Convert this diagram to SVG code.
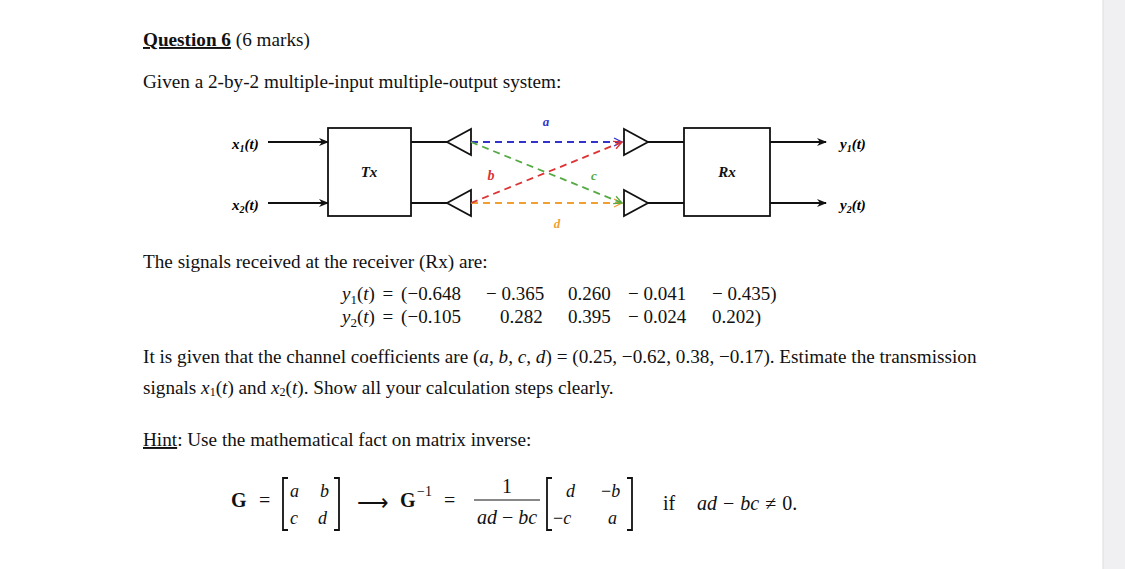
<svg xmlns="http://www.w3.org/2000/svg" width="1125" height="569" viewBox="0 0 1125 569">
<style>
.t{font-family:"Liberation Serif",serif;font-size:19.2px;fill:#111}
.m{font-family:"Liberation Serif",serif;fill:#111}
.s{fill:none;stroke:#111;stroke-width:1.8}
.dash{fill:none;stroke-width:1.8;stroke-dasharray:7,5}
</style>
<defs>
<marker id="ar" markerWidth="10" markerHeight="8" refX="9" refY="4" orient="auto" markerUnits="userSpaceOnUse"><path d="M0,0 L10,4 L0,8 L3,4 Z" fill="#111"/></marker>
<marker id="ob" markerWidth="10" markerHeight="10" refX="9" refY="5" orient="auto" markerUnits="userSpaceOnUse"><path d="M1,1 L9,5 L1,9" fill="none" stroke="#33c" stroke-width="1.3"/></marker>
<marker id="or" markerWidth="10" markerHeight="10" refX="9" refY="5" orient="auto" markerUnits="userSpaceOnUse"><path d="M1,1 L9,5 L1,9" fill="none" stroke="#d33" stroke-width="1.3"/></marker>
<marker id="og" markerWidth="10" markerHeight="10" refX="9" refY="5" orient="auto" markerUnits="userSpaceOnUse"><path d="M1,1 L9,5 L1,9" fill="none" stroke="#5a4" stroke-width="1.3"/></marker>
<marker id="oo" markerWidth="10" markerHeight="10" refX="9" refY="5" orient="auto" markerUnits="userSpaceOnUse"><path d="M1,1 L9,5 L1,9" fill="none" stroke="#f0a030" stroke-width="1.3"/></marker>
</defs>
<rect width="1125" height="569" fill="#fff"/>
<rect x="1103" y="0" width="22" height="569" fill="#f0f0f2"/>
<line x1="1103" y1="0" x2="1103" y2="569" stroke="#ddd"/>

<text class="t" x="143" y="46"><tspan font-weight="bold" text-decoration="underline">Question 6</tspan> (6 marks)</text>
<text class="t" x="143" y="88">Given a 2-by-2 multiple-input multiple-output system:</text>

<g id="tx"><rect x="328" y="128" width="83" height="88" class="s" fill="#fff"/><text class="m" x="369" y="177" font-size="15" font-style="italic" text-anchor="middle" font-weight="bold">Tx</text></g>
<g id="rx"><rect x="684" y="128" width="86" height="88" class="s" fill="#fff"/><text class="m" x="727" y="177" font-size="15" font-style="italic" text-anchor="middle" font-weight="bold">Rx</text></g>
<g id="ant-t1"><path d="M447,142 L471,129 L471,155 Z" class="s"/></g>
<g id="ant-t2"><path d="M447,203 L471,190 L471,216 Z" class="s"/></g>
<g id="ant-r1"><path d="M648,142 L624,129 L624,155 Z" class="s"/></g>
<g id="ant-r2"><path d="M648,203 L624,190 L624,216 Z" class="s"/></g>
<g id="labels" font-family="Liberation Serif,serif" font-style="italic" font-weight="bold" font-size="15">
<text x="232" y="149">x<tspan font-size="10" dy="3">1</tspan><tspan dy="-3">(t)</tspan></text>
<text x="232" y="210">x<tspan font-size="10" dy="3">2</tspan><tspan dy="-3">(t)</tspan></text>
<text x="840" y="149">y<tspan font-size="10" dy="3">1</tspan><tspan dy="-3">(t)</tspan></text>
<text x="840" y="210">y<tspan font-size="10" dy="3">2</tspan><tspan dy="-3">(t)</tspan></text>
<text x="546" y="126" fill="#33c" text-anchor="middle" font-size="13">a</text>
<text x="491" y="180" fill="#d33" text-anchor="middle" font-size="14">b</text>
<text x="594" y="180" fill="#5a4" text-anchor="middle" font-size="13">c</text>
<text x="557" y="228" fill="#f0a030" text-anchor="middle" font-size="13">d</text>
</g>
<g id="connectors">
<line x1="268" y1="142" x2="328" y2="142" class="s" marker-end="url(#ar)"/>
<line x1="268" y1="203" x2="328" y2="203" class="s" marker-end="url(#ar)"/>
<line x1="411" y1="142" x2="447" y2="142" class="s"/>
<line x1="411" y1="203" x2="447" y2="203" class="s"/>
<line x1="648" y1="142" x2="684" y2="142" class="s"/>
<line x1="648" y1="203" x2="684" y2="203" class="s"/>
<line x1="770" y1="142" x2="826" y2="142" class="s" marker-end="url(#ar)"/>
<line x1="770" y1="203" x2="826" y2="203" class="s" marker-end="url(#ar)"/>
<line x1="471" y1="142" x2="622" y2="142" class="dash" stroke="#33c" marker-end="url(#ob)"/>
<line x1="471" y1="203" x2="622" y2="203" class="dash" stroke="#f0a030" marker-end="url(#oo)"/>
<line x1="471" y1="142" x2="622" y2="203" class="dash" stroke="#5a4" marker-end="url(#og)"/>
<line x1="471" y1="203" x2="622" y2="142" class="dash" stroke="#d33" marker-end="url(#or)"/>
</g>

<text class="t" x="143" y="268">The signals received at the receiver (Rx) are:</text>
<g class="m" font-size="19">
<text x="342" y="300" word-spacing="3"><tspan font-style="italic">y</tspan><tspan font-size="13" dy="4">1</tspan><tspan dy="-4">(</tspan><tspan font-style="italic">t</tspan>) = (−0.648</text>
<text x="486" y="300">− 0.365</text><text x="568" y="300">0.260</text><text x="628" y="300">− 0.041</text><text x="712" y="300">− 0.435)</text>
<text x="342" y="323" word-spacing="3"><tspan font-style="italic">y</tspan><tspan font-size="13" dy="4">2</tspan><tspan dy="-4">(</tspan><tspan font-style="italic">t</tspan>) = (−0.105</text>
<text x="500" y="323">0.282</text><text x="568" y="323">0.395</text><text x="628" y="323">− 0.024</text><text x="712" y="323">0.202)</text>
</g>

<text class="t" x="143" y="363">It is given that the channel coefficients are (<tspan font-style="italic">a</tspan>, <tspan font-style="italic">b</tspan>, <tspan font-style="italic">c</tspan>, <tspan font-style="italic">d</tspan>) = (0.25, −0.62, 0.38, −0.17). Estimate the transmission</text>
<text class="t" x="143" y="394">signals <tspan font-style="italic">x</tspan><tspan font-size="12" dy="2">1</tspan><tspan dy="-2">(</tspan><tspan font-style="italic">t</tspan>) and <tspan font-style="italic">x</tspan><tspan font-size="12" dy="2">2</tspan><tspan dy="-2">(</tspan><tspan font-style="italic">t</tspan>). Show all your calculation steps clearly.</text>

<text class="t" x="143" y="446"><tspan text-decoration="underline">Hint</tspan>: Use the mathematical fact on matrix inverse:</text>

<g id="formula" class="m" font-size="20">
<text x="231" y="507" font-weight="bold">G</text><text x="259" y="507">=</text>
<path d="M288,478 h-5 v52 h5 M334,478 h5 v52 h-5" class="s" stroke-width="1.3"/>
<text x="290" y="497" font-style="italic" font-size="18">a</text><text x="320" y="497" font-style="italic" font-size="18">b</text>
<text x="290" y="524" font-style="italic" font-size="18">c</text><text x="318" y="524" font-style="italic" font-size="18">d</text>
<text x="357" y="510" font-size="22">⟶</text>
<text x="400" y="507" font-weight="bold">G</text><text x="417" y="496" font-size="14">−1</text><text x="444" y="507">=</text>
<text x="507" y="493" text-anchor="middle">1</text>
<line x1="474" y1="500" x2="540" y2="500" stroke="#111" stroke-width="1"/>
<text x="507" y="524" text-anchor="middle"><tspan font-style="italic">ad</tspan> − <tspan font-style="italic">bc</tspan></text>
<path d="M552,478 h-5 v52 h5 M627,478 h5 v52 h-5" class="s" stroke-width="1.3"/>
<text x="566" y="497" font-style="italic" font-size="18">d</text><text x="601" y="497" font-size="18">−<tspan font-style="italic">b</tspan></text>
<text x="553" y="524" font-size="18">−<tspan font-style="italic">c</tspan></text><text x="608" y="524" font-style="italic" font-size="18">a</text>
<text x="663" y="510">if</text>
<text x="697" y="510" word-spacing="1"><tspan font-style="italic">ad</tspan> − <tspan font-style="italic">bc</tspan> ≠ 0.</text>
</g>
</svg>
